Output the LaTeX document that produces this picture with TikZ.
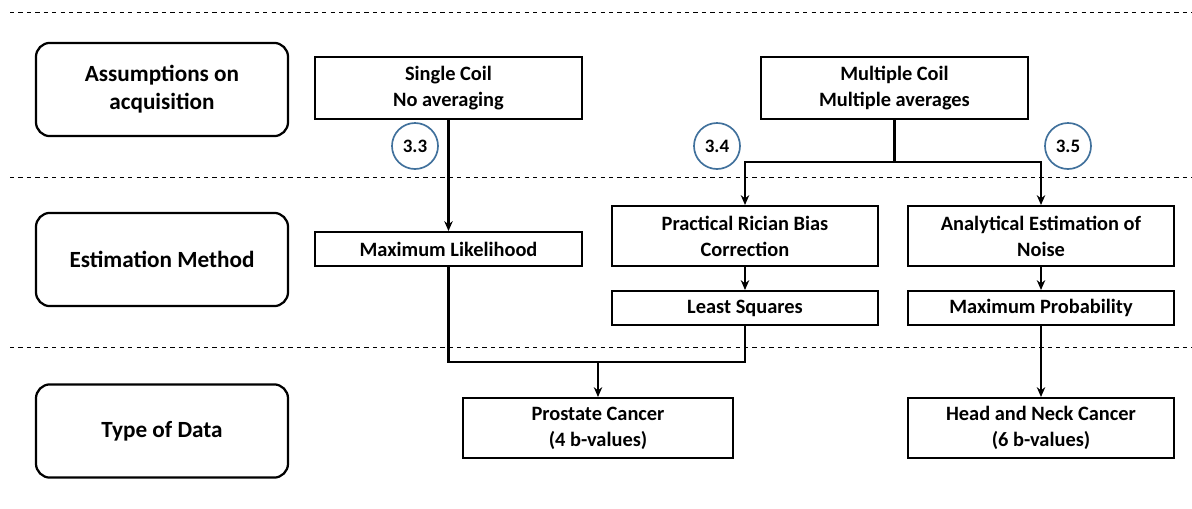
\documentclass[tikz,border=0pt]{standalone}
\usepackage{fontspec}
\setmainfont{Carlito}
\usepackage{xcolor}
\definecolor{secblue}{RGB}{65,113,156}
\usetikzlibrary{arrows.meta,positioning}

\begin{document}
\begin{tikzpicture}[x=0.025cm,y=-0.025cm,
  rowlabel/.style={draw,line width=1.6pt,rounded corners=10pt,minimum width=6.3cm,minimum height=2.33cm,align=center,font=\fontsize{16.5}{20}\selectfont\bfseries},
  stagebox/.style={draw,line width=1.4pt,minimum width=6.65cm,align=center,inner sep=2pt,font=\fontsize{14.5}{18.5}\selectfont\bfseries},
  secmark/.style={circle,draw=secblue,line width=1.2pt,minimum size=1.15cm,inner sep=0pt,font=\fontsize{13.5}{15}\selectfont\bfseries},
  conn/.style={line width=1.5pt},
  arr/.style={conn,-{Stealth[length=7pt,width=6pt]}}]
  \useasboundingbox (0,0) rectangle (1192,508);
  % Row separators
  \draw[dashed,line width=0.6pt] (10,12) -- (1192,12);
  \draw[dashed,line width=0.6pt] (10,177) -- (1192,177);
  \draw[dashed,line width=0.6pt] (10,347) -- (1192,347);
  % Row labels
  \node[rowlabel] (assume) at (162,89.5) {Assumptions on\\acquisition};
  \node[rowlabel] (method) at (162,259.5) {Estimation Method};
  \node[rowlabel] (datatype) at (162,431) {Type of Data};
  % Acquisition
  \node[stagebox,minimum height=1.55cm] (single) at (448.5,88) {Single Coil\\No averaging};
  \node[stagebox,minimum height=1.55cm] (multi) at (894.5,88) {Multiple Coil\\Multiple averages};
  % Sections
  \node[secmark] (s33) at (415,146) {3.3};
  \node[secmark] (s34) at (717,146) {3.4};
  \node[secmark] (s35) at (1068,146) {3.5};
  % Estimation
  \node[stagebox,minimum height=0.85cm] (ml) at (448.5,249) {Maximum Likelihood};
  \node[stagebox,minimum height=1.5cm] (prbc) at (745,236) {Practical Rician Bias\\Correction};
  \node[stagebox,minimum height=0.85cm] (lsq) at (745,308) {Least Squares};
  \node[stagebox,minimum height=1.5cm] (aen) at (1041,236) {Analytical Estimation of\\Noise};
  \node[stagebox,minimum height=0.85cm] (mp) at (1041,308) {Maximum Probability};
  % Data
  \node[stagebox,minimum width=6.75cm,minimum height=1.5cm] (prost) at (598,428) {Prostate Cancer\\(4 b-values)};
  \node[stagebox,minimum height=1.5cm] (hn) at (1041,428) {Head and Neck Cancer\\(6 b-values)};
  % Junctions
  \coordinate (msplit) at (894.5,162);
  \coordinate (pjoin) at (598,362);
  % Arrows
  \draw[arr] (single) -- (ml);
  \draw[conn] (multi) -- (msplit);
  \draw[arr] (msplit) -| (prbc);
  \draw[arr] (msplit) -| (aen);
  \draw[arr] (prbc) -- (lsq);
  \draw[arr] (aen) -- (mp);
  \draw[conn] (ml) |- (pjoin);
  \draw[conn] (lsq) |- (pjoin);
  \draw[arr] (pjoin) -- (prost);
  \draw[arr] (mp) -- (hn);
\end{tikzpicture}
\end{document}
